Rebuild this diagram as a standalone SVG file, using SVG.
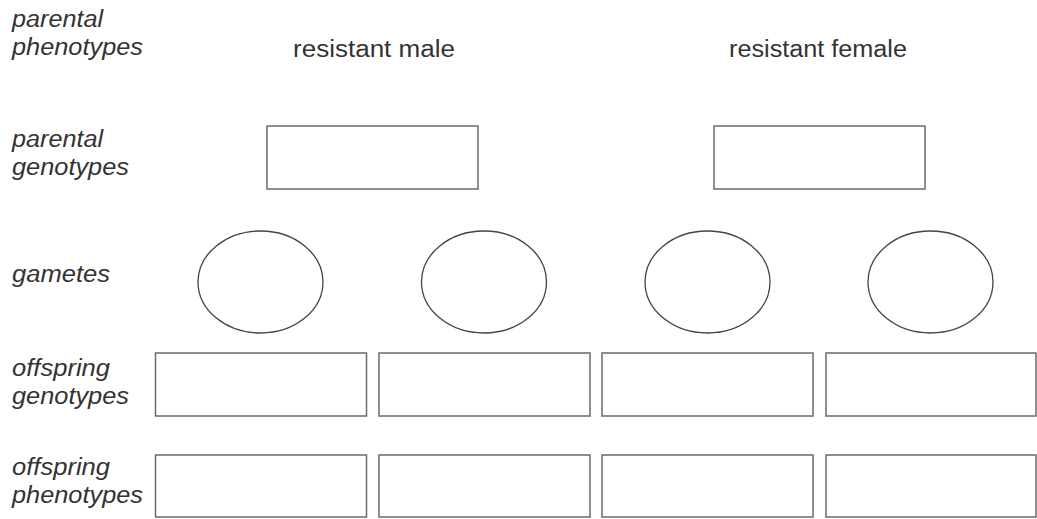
<svg xmlns="http://www.w3.org/2000/svg" width="1037" height="519" viewBox="0 0 1037 519">
<style>
.lbl{font-family:"Liberation Sans",Arial,sans-serif;font-size:23px;font-style:italic;fill:#333}
.hd{font-family:"Liberation Sans",Arial,sans-serif;font-size:23px;fill:#333}
.box{fill:#fff;stroke:#6a6a6a;stroke-width:1.5}
.gam{fill:#fff;stroke:#444;stroke-width:1.3}
</style>
<rect width="1037" height="519" fill="#fff"/>
<g id="labels">
<text class="lbl" x="12" y="27" textLength="91" lengthAdjust="spacingAndGlyphs">parental</text>
<text class="lbl" x="12" y="55" textLength="131" lengthAdjust="spacingAndGlyphs">phenotypes</text>
<text class="lbl" x="12" y="147" textLength="91" lengthAdjust="spacingAndGlyphs">parental</text>
<text class="lbl" x="12" y="175" textLength="117" lengthAdjust="spacingAndGlyphs">genotypes</text>
<text class="lbl" x="12" y="282" textLength="98" lengthAdjust="spacingAndGlyphs">gametes</text>
<text class="lbl" x="12" y="376" textLength="98" lengthAdjust="spacingAndGlyphs">offspring</text>
<text class="lbl" x="12" y="404" textLength="117" lengthAdjust="spacingAndGlyphs">genotypes</text>
<text class="lbl" x="12" y="475" textLength="98" lengthAdjust="spacingAndGlyphs">offspring</text>
<text class="lbl" x="12" y="503" textLength="131" lengthAdjust="spacingAndGlyphs">phenotypes</text>
</g>
<g id="male">
<text class="hd" x="293" y="57" textLength="162" lengthAdjust="spacingAndGlyphs">resistant male</text>
<rect class="box" x="267" y="126" width="211" height="63"/>
</g>
<g id="female">
<text class="hd" x="729" y="57" textLength="178" lengthAdjust="spacingAndGlyphs">resistant female</text>
<rect class="box" x="714" y="126" width="211" height="63"/>
</g>
<g id="gametes">
<ellipse class="gam" cx="260.5" cy="282" rx="62.5" ry="51"/>
<ellipse class="gam" cx="484" cy="282" rx="62.5" ry="51"/>
<ellipse class="gam" cx="707.5" cy="282" rx="62.5" ry="51"/>
<ellipse class="gam" cx="930.5" cy="282" rx="62.5" ry="51"/>
</g>
<g id="offspring-genotypes">
<rect class="box" x="155.5" y="353" width="211" height="63"/>
<rect class="box" x="379" y="353" width="211" height="63"/>
<rect class="box" x="602" y="353" width="211" height="63"/>
<rect class="box" x="826" y="353" width="210" height="63"/>
</g>
<g id="offspring-phenotypes">
<rect class="box" x="155.5" y="455" width="211" height="62"/>
<rect class="box" x="379" y="455" width="211" height="62"/>
<rect class="box" x="602" y="455" width="211" height="62"/>
<rect class="box" x="826" y="455" width="210" height="62"/>
</g>
<g id="connectors"></g>
</svg>
